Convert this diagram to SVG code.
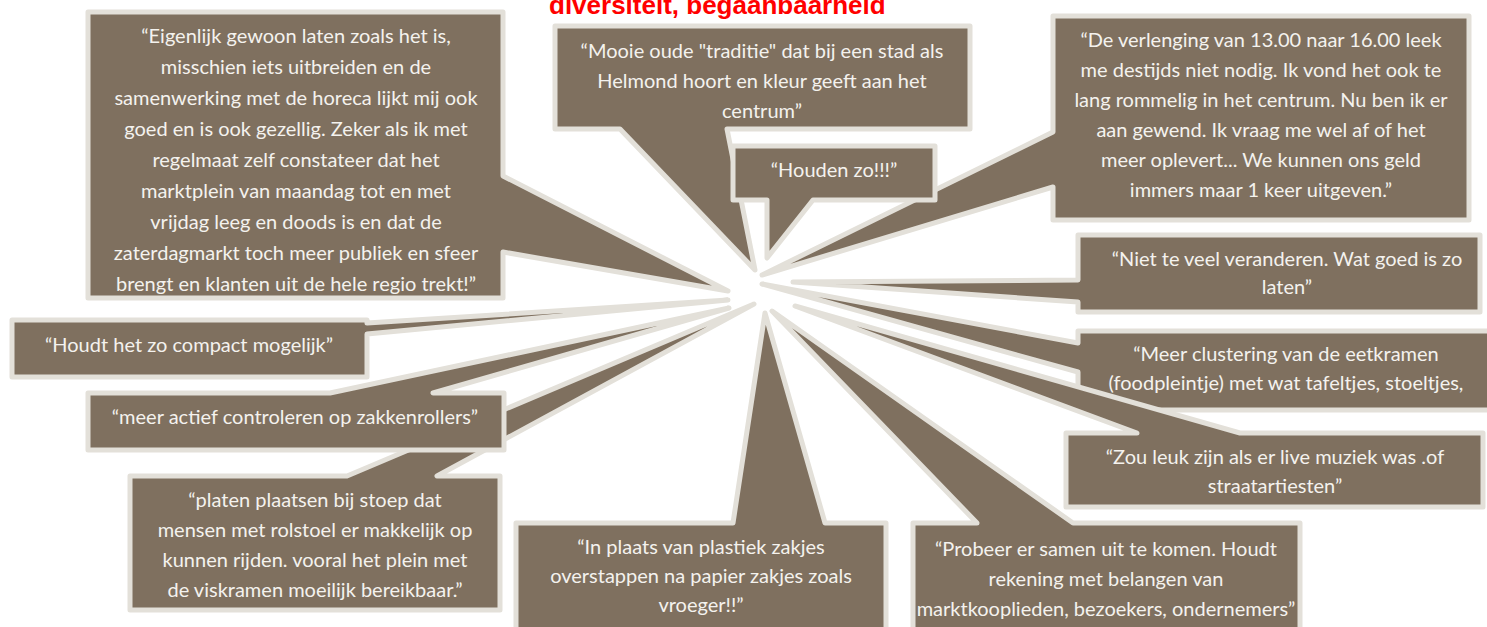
<svg xmlns="http://www.w3.org/2000/svg" width="1487" height="627" viewBox="0 0 1487 627">
<style>
.c{fill:#7F705F;stroke:#E3E0D9;stroke-width:5;stroke-linejoin:round}
.t{font-family:Lato,"Open Sans",sans-serif;font-size:20px;fill:#F4F2EE;text-anchor:middle}
.title{font-family:"Liberation Sans",Arial,sans-serif;font-weight:bold;font-size:26px;fill:#FF0000}
</style>
<rect width="1487" height="627" fill="#FFFFFF"/>
<text class="title" x="549" y="14">diversiteit, begaanbaarheid</text>
<g id="n-eigenlijk">
<path class="c" d="M88,12 H503 V176 L728,291 L503,252 V298 H88 Z"/>
<text class="t"><tspan x="296" y="43">“Eigenlijk gewoon laten zoals het is,</tspan><tspan x="296" y="74">misschien iets uitbreiden en de</tspan><tspan x="296" y="105">samenwerking met de horeca lijkt mij ook</tspan><tspan x="296" y="136">goed en is ook gezellig. Zeker als ik met</tspan><tspan x="296" y="167">regelmaat zelf constateer dat het</tspan><tspan x="296" y="198">marktplein van maandag tot en met</tspan><tspan x="296" y="229">vrijdag leeg en doods is en dat de</tspan><tspan x="296" y="260">zaterdagmarkt toch meer publiek en sfeer</tspan><tspan x="296" y="291">brengt en klanten uit de hele regio trekt!”</tspan></text>
</g>
<g id="n-mooie">
<path class="c" d="M555,26 H970 V129 H727 L755,270 L620,129 H555 Z"/>
<text class="t"><tspan x="762" y="58">“Mooie oude "traditie" dat bij een stad als</tspan><tspan x="762" y="88">Helmond hoort en kleur geeft aan het</tspan><tspan x="762" y="118">centrum”</tspan></text>
</g>
<g id="n-verlenging">
<path class="c" d="M1053,16 H1469 V220 H1053 V187 L762,275 L1053,132 Z"/>
<text class="t"><tspan x="1261" y="47">“De verlenging van 13.00 naar 16.00 leek</tspan><tspan x="1261" y="77">me destijds niet nodig. Ik vond het ook te</tspan><tspan x="1261" y="107">lang rommelig in het centrum. Nu ben ik er</tspan><tspan x="1261" y="137">aan gewend. Ik vraag me wel af of het</tspan><tspan x="1261" y="167">meer oplevert... We kunnen ons geld</tspan><tspan x="1261" y="197">immers maar 1 keer uitgeven.”</tspan></text>
</g>
<g id="n-houden">
<path class="c" d="M733,146 H935 V200 H813 L767,258 L767,200 H733 Z"/>
<text class="t" x="834" y="177">“Houden zo!!!”</text>
</g>
<g id="n-niet">
<path class="c" d="M1078,235 H1480 V312 H1078 V302 L793,282 L1078,280 Z"/>
<text class="t"><tspan x="1287" y="266">“Niet te veel veranderen. Wat goed is zo</tspan><tspan x="1287" y="294">laten”</tspan></text>
</g>
<g id="n-meer">
<path class="c" d="M1078,331 H1492 V410 H1078 V372 L762,284 L1078,343 Z"/>
<text class="t"><tspan x="1286" y="361">“Meer clustering van de eetkramen</tspan><tspan x="1286" y="390">(foodpleintje) met wat tafeltjes, stoeltjes,</tspan></text>
</g>
<g id="n-zou">
<path class="c" d="M1066,433 H1137 L795,306 L1240,433 H1483 V507 H1066 Z"/>
<text class="t"><tspan x="1275" y="464">“Zou leuk zijn als er live muziek was .of</tspan><tspan x="1275" y="493">straatartiesten”</tspan></text>
</g>
<g id="n-probeer">
<path class="c" d="M913,523 H977 L772,311 L1073,523 H1300 V640 H913 Z"/>
<text class="t"><tspan x="1106" y="556">“Probeer er samen uit te komen. Houdt</tspan><tspan x="1106" y="586">rekening met belangen van</tspan><tspan x="1106" y="616">marktkooplieden, bezoekers, ondernemers”</tspan></text>
</g>
<g id="n-plastiek">
<path class="c" d="M516,523 H733 L765,313 L825,523 H886 V640 H516 Z"/>
<text class="t"><tspan x="701" y="554">“In plaats van plastiek zakjes</tspan><tspan x="701" y="583">overstappen na papier zakjes zoals</tspan><tspan x="701" y="612">vroeger!!”</tspan></text>
</g>
<g id="n-platen">
<path class="c" d="M130,476 H347 L754,304 L437,476 H500 V610 H130 Z"/>
<text class="t"><tspan x="315" y="507">“platen plaatsen bij stoep dat</tspan><tspan x="315" y="537">mensen met rolstoel er makkelijk op</tspan><tspan x="315" y="567">kunnen rijden. vooral het plein met</tspan><tspan x="315" y="597">de viskramen moeilijk bereikbaar.”</tspan></text>
</g>
<g id="n-zakkenrollers">
<path class="c" d="M88,393 H330 L729,308 L433,393 H504 V450 H88 Z"/>
<text class="t" x="295" y="424">“meer actief controleren op zakkenrollers”</text>
</g>
<g id="n-compact">
<path class="c" d="M12,320 H367 V323 L728,300 L367,334 V377 H12 Z"/>
<text class="t" x="189" y="352">“Houdt het zo compact mogelijk”</text>
</g>
<g id="connectors"></g>
</svg>
